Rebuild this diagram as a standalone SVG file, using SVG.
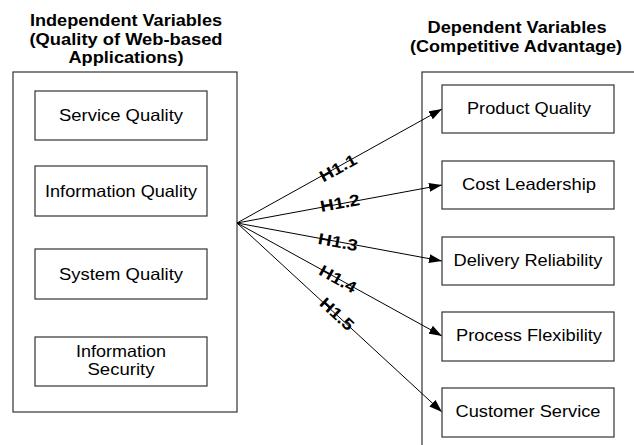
<svg xmlns="http://www.w3.org/2000/svg" width="634" height="445" viewBox="0 0 634 445">
<defs>
<marker id="arr" markerUnits="userSpaceOnUse" markerWidth="14" markerHeight="10" refX="13" refY="5" orient="auto">
<path d="M0,0.5 L13,5 L0,9.5 Z" fill="#000"/>
</marker>
<style>
.box{fill:#fff;stroke:#333;stroke-width:1.2}
.t{font-family:"Liberation Sans",Arial,sans-serif;font-size:16.5px;fill:#000;text-anchor:middle}
.h{font-family:"Liberation Sans",Arial,sans-serif;font-size:16px;font-weight:bold;fill:#000;text-anchor:middle}
.lb{font-family:"Liberation Sans",Arial,sans-serif;font-size:16px;font-weight:bold;fill:#000;text-anchor:middle}
.c{stroke:#000;stroke-width:1;fill:none;marker-end:url(#arr)}
</style>
</defs>
<rect width="634" height="445" fill="#fff"/>
<g id="titles">
<text class="h" x="126" y="26" textLength="192" lengthAdjust="spacingAndGlyphs">Independent Variables</text>
<text class="h" x="126" y="45" textLength="193" lengthAdjust="spacingAndGlyphs">(Quality of Web-based</text>
<text class="h" x="126" y="63" textLength="115" lengthAdjust="spacingAndGlyphs">Applications)</text>
<text class="h" x="517" y="33" textLength="179" lengthAdjust="spacingAndGlyphs">Dependent Variables</text>
<text class="h" x="516" y="52" textLength="212" lengthAdjust="spacingAndGlyphs">(Competitive Advantage)</text>
</g>
<g id="independent">
<rect class="box" x="13" y="72" width="224" height="340"/>
</g>
<g id="dependent">
<rect class="box" x="422" y="72" width="300" height="400"/>
</g>
<g id="connectors">
<path class="c" d="M237,223 L442,109"/>
<path class="c" d="M237,223 L442,185"/>
<path class="c" d="M237,223 L442,261"/>
<path class="c" d="M237,223 L442,336"/>
<path class="c" d="M237,223 L442,412"/>
<text class="lb" x="338" y="173.5" transform="rotate(-29 338 168)" textLength="40" lengthAdjust="spacingAndGlyphs">H1.1</text>
<text class="lb" x="340" y="208.5" transform="rotate(-10.5 340 203)" textLength="40" lengthAdjust="spacingAndGlyphs">H1.2</text>
<text class="lb" x="338" y="247.5" transform="rotate(10.5 338 242)" textLength="40" lengthAdjust="spacingAndGlyphs">H1.3</text>
<text class="lb" x="338" y="284.5" transform="rotate(29 338 279)" textLength="40" lengthAdjust="spacingAndGlyphs">H1.4</text>
<text class="lb" x="337" y="319.5" transform="rotate(42.7 337 314)" textLength="40" lengthAdjust="spacingAndGlyphs">H1.5</text>
</g>
<g id="service-quality">
<rect class="box" x="35" y="91" width="172" height="49"/>
<text class="t" x="121" y="121" textLength="124" lengthAdjust="spacingAndGlyphs">Service Quality</text>
</g>
<g id="information-quality">
<rect class="box" x="35" y="166" width="172" height="50"/>
<text class="t" x="121" y="197" textLength="152" lengthAdjust="spacingAndGlyphs">Information Quality</text>
</g>
<g id="system-quality">
<rect class="box" x="35" y="249" width="172" height="50"/>
<text class="t" x="121" y="280" textLength="124" lengthAdjust="spacingAndGlyphs">System Quality</text>
</g>
<g id="information-security">
<rect class="box" x="35" y="337" width="172" height="49"/>
<text class="t" x="121" y="357" textLength="90" lengthAdjust="spacingAndGlyphs">Information</text>
<text class="t" x="121" y="375" textLength="67" lengthAdjust="spacingAndGlyphs">Security</text>
</g>
<g id="product-quality">
<rect class="box" x="442" y="85" width="172" height="48"/>
<text class="t" x="529" y="114" textLength="124" lengthAdjust="spacingAndGlyphs">Product Quality</text>
</g>
<g id="cost-leadership">
<rect class="box" x="442" y="161" width="172" height="48"/>
<text class="t" x="529" y="190" textLength="134" lengthAdjust="spacingAndGlyphs">Cost Leadership</text>
</g>
<g id="delivery-reliability">
<rect class="box" x="442" y="237" width="172" height="48"/>
<text class="t" x="528" y="266" textLength="149" lengthAdjust="spacingAndGlyphs">Delivery Reliability</text>
</g>
<g id="process-flexibility">
<rect class="box" x="442" y="312" width="172" height="49"/>
<text class="t" x="529" y="341" textLength="146" lengthAdjust="spacingAndGlyphs">Process Flexibility</text>
</g>
<g id="customer-service">
<rect class="box" x="442" y="388" width="172" height="49"/>
<text class="t" x="528" y="417" textLength="145" lengthAdjust="spacingAndGlyphs">Customer Service</text>
</g>
</svg>
